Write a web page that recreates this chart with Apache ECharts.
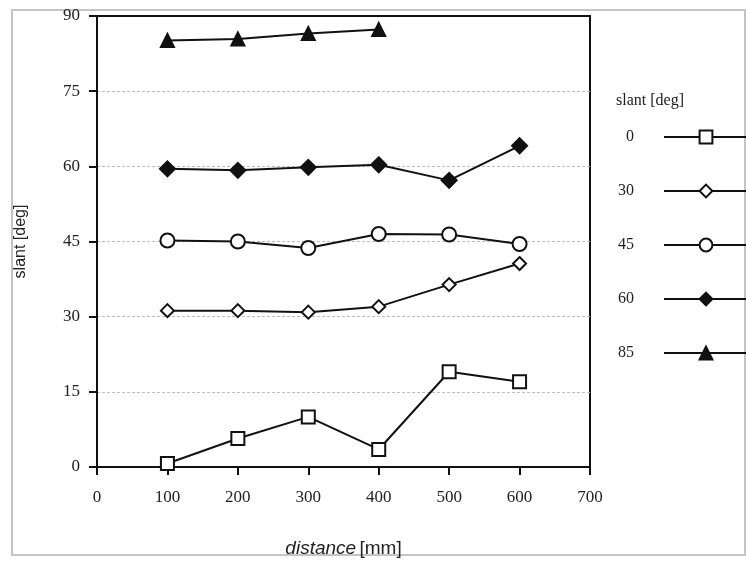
<!DOCTYPE html>
<html>
<head>
<meta charset="utf-8">
<script src="https://cdn.jsdelivr.net/npm/echarts@6/dist/echarts.min.js"></script>
<style>
  html, body { margin: 0; padding: 0; background: #fff; }
  #chart { width: 746px; height: 563px; }
</style>
</head>
<body>
<div id="chart"></div>
<script>
// Distance (mm) at which each slant condition was measured
const distances = [100, 200, 300, 400, 500, 600];
const distances85 = [100, 200, 300, 400];

// Measured slant (deg) for each nominal slant condition
const slant0 = [0.7, 5.7, 10.0, 3.5, 19.0, 17.0];
const slant30 = [31.2, 31.2, 30.9, 32.0, 36.4, 40.6];
const slant45 = [45.2, 45.0, 43.7, 46.5, 46.4, 44.5];
const slant60 = [59.5, 59.2, 59.8, 60.3, 57.2, 64.1];
const slant85 = [85.1, 85.4, 86.5, 87.3];

const legendNames = ['0', '30', '45', '60', '85'];

const serif = '"Liberation Serif", "Times New Roman", serif';
const sans = '"Liberation Sans", Arial, sans-serif';

function pairs(xs, ys) {
  return xs.map((x, i) => [x, ys[i]]);
}

function makeSeries(name, xs, ys, symbol, size, fill) {
  return {
    name: name,
    type: 'line',
    data: pairs(xs, ys),
    symbol: symbol,
    symbolSize: size,
    showAllSymbol: true,
    lineStyle: { color: '#111', width: 2 },
    itemStyle: { color: fill, borderColor: '#111', borderWidth: 2 },
    emphasis: { disabled: true },
    z: 3
  };
}

const chart = echarts.init(document.getElementById('chart'), null, { renderer: 'canvas' });

chart.setOption({
  animation: false,
  backgroundColor: '#fff',
  graphic: [{
    type: 'rect',
    shape: { x: 12, y: 10, width: 733, height: 545 },
    style: { fill: 'none', stroke: '#c4c4c4', lineWidth: 2 },
    silent: true,
    z: -1
  }],
  grid: { left: 97, right: 156, top: 16, bottom: 95, show: true, borderColor: '#111', borderWidth: 2, backgroundColor: 'transparent' },
  xAxis: {
    type: 'value',
    min: 0, max: 700, interval: 100,
    name: '{i|distance} {n|[mm]}',
    nameLocation: 'middle',
    nameGap: 72,
    nameTextStyle: {
      rich: {
        i: { fontFamily: sans, fontSize: 19, fontStyle: 'italic', color: '#222' },
        n: { fontFamily: sans, fontSize: 19, color: '#222' }
      }
    },
    axisLine: { show: true, onZero: false, lineStyle: { color: '#111', width: 2 } },
    axisTick: { show: true, inside: false, length: 8, lineStyle: { color: '#111', width: 2 } },
    axisLabel: { fontFamily: serif, fontSize: 17, color: '#222', margin: 22 },
    splitLine: { show: false }
  },
  yAxis: {
    type: 'value',
    min: 0, max: 90, interval: 15,
    name: 'slant [deg]',
    nameLocation: 'middle',
    nameGap: 68,
    nameTextStyle: { fontFamily: sans, fontSize: 16, color: '#222' },
    axisLine: { show: true, onZero: false, lineStyle: { color: '#111', width: 2 } },
    axisTick: { show: true, inside: false, length: 8, lineStyle: { color: '#111', width: 2 } },
    axisLabel: { fontFamily: serif, fontSize: 17, color: '#222', margin: 17 },
    splitLine: { show: true, showMinLine: false, showMaxLine: false, lineStyle: { color: '#bdbdbd', width: 1, type: [3, 2] } }
  },
  legend: {
    data: legendNames,
    orient: 'vertical',
    left: 613,
    top: 124,
    align: 'right',
    itemWidth: 84,
    itemHeight: 16,
    itemGap: 38,
    selectedMode: false,
    textStyle: { fontFamily: serif, fontSize: 16, color: '#222', padding: [0, 25, 0, 0], width: 28, align: 'right' },
    formatter: n => n
  },
  title: {
    text: 'slant [deg]',
    left: 611,
    top: 88,
    textStyle: { fontFamily: serif, fontSize: 16, fontWeight: 'normal', color: '#222' }
  },
  series: [
    makeSeries('0', distances, slant0, 'rect', 13, '#fff'),
    makeSeries('30', distances, slant30, 'diamond', 13, '#fff'),
    makeSeries('45', distances, slant45, 'circle', 14, '#fff'),
    makeSeries('60', distances, slant60, 'diamond', 15, '#111'),
    makeSeries('85', distances85, slant85, 'triangle', 13, '#111')
  ]
});
</script>
</body>
</html>
